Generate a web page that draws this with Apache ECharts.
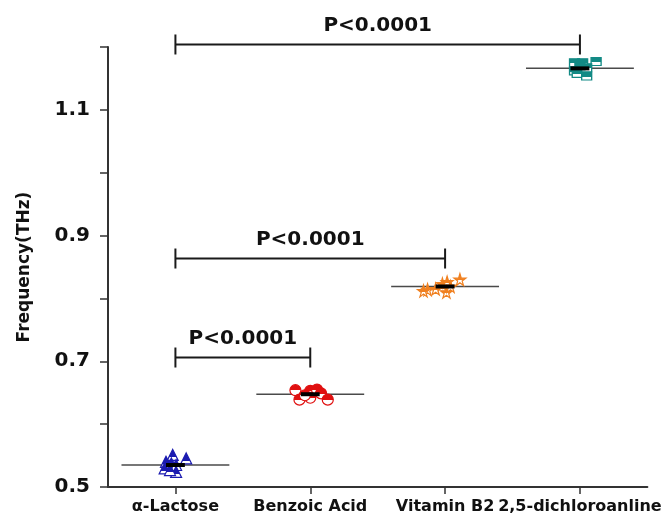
<!DOCTYPE html>
<html>
<head>
<meta charset="utf-8">
<script src="https://cdn.jsdelivr.net/npm/echarts@6/dist/echarts.min.js"></script>
<style>html,body{margin:0;padding:0;background:#fff}#c{width:664px;height:519px}</style>
</head>
<body>
<div id="c"></div>
<script>
const categories = ['α-Lactose', 'Benzoic Acid', 'Vitamin B2', '2,5-dichloroanline'];
const yTicks = [0.5, 0.7, 0.9, 1.1];

// per-group point values (Y) and horizontal jitter (in category units)
const lactoseY  = [0.551, 0.5455, 0.540, 0.5375, 0.535, 0.5296, 0.524, 0.527];
const lactoseDX = [-0.02, 0.08, -0.07, -0.03, 0.005, -0.08, 0.005, -0.04];
const benzoicY  = [0.654, 0.653, 0.655, 0.649, 0.639, 0.642, 0.639, 0.646];
const benzoicDX = [-0.11, 0.0, 0.05, 0.08, -0.08, 0.0, 0.13, -0.04];
const vitaminY  = [0.814, 0.815, 0.823, 0.826, 0.810, 0.830, 0.819, 0.812];
const vitaminDX = [-0.13, -0.07, -0.02, 0.015, 0.01, 0.11, 0.04, -0.16];
const dichloroY  = [1.175, 1.175, 1.177, 1.162, 1.158, 1.154, 1.167, 1.170];
const dichloroDX = [-0.04, 0.02, 0.12, -0.04, -0.02, 0.05, 0.05, 0.0];

const means = [0.535, 0.6476, 0.819, 1.166];

// significance brackets: [fromCategory, toCategory, yLevel]
const bracketFrom = [0, 0, 0];
const bracketTo   = [3, 2, 1];
const bracketY    = [1.204, 0.8635, 0.706];
const bracketText = ['P<0.0001', 'P<0.0001', 'P<0.0001'];

const FONT = '"DejaVu Sans", "Liberation Sans", Arial, sans-serif';

function halfFill(c, cut) {
  return {
    type: 'linear', x: 0, y: 0, x2: 0, y2: 1,
    colorStops: [
      {offset: 0, color: c}, {offset: cut, color: c},
      {offset: cut, color: '#ffffff'}, {offset: 1, color: '#ffffff'}
    ]
  };
}

function pts(ys, dxs, i) {
  return ys.map((y, k) => [i + dxs[k], y]);
}

const starPath = 'path://M50,0 L61,35 L98,35 L68,57 L79,91 L50,70 L21,91 L32,57 L2,35 L39,35 Z';

const groups = [
  {data: pts(lactoseY, lactoseDX, 0), color: '#1b1bb0', symbol: 'triangle', size: 11, cut: 0.68},
  {data: pts(benzoicY, benzoicDX, 1), color: '#e01010', symbol: 'circle', size: 11, cut: 0.52},
  {data: pts(vitaminY, vitaminDX, 2), color: '#f08020', symbol: starPath, size: 12, cut: 0.55},
  {data: pts(dichloroY, dichloroDX, 3), color: '#138a85', symbol: 'rect', size: [10, 8], cut: 0.58}
];

const chart = echarts.init(document.getElementById('c'), null, {renderer: 'canvas'});

const series = [];

series.push({
  type: 'custom',
  xAxisIndex: 1, yAxisIndex: 0,
  z: 1,
  data: means.map((m, i) => [i, m]),
  renderItem: function (params, api) {
    const i = api.value(0), m = api.value(1);
    const a = api.coord([i - 0.4, m]), b = api.coord([i + 0.4, m]);
    return {
      type: 'line',
      shape: {x1: a[0], y1: a[1], x2: b[0], y2: b[1]},
      style: {stroke: '#4a4a4a', lineWidth: 1.5}
    };
  }
});

groups.forEach(g => {
  series.push({
    type: 'scatter',
    xAxisIndex: 1, yAxisIndex: 0,
    z: 2,
    symbol: g.symbol,
    symbolSize: g.size,
    data: g.data,
    itemStyle: {color: halfFill(g.color, g.cut), borderColor: g.color, borderWidth: 1.2, opacity: 1}
  });
});

series.push({
  type: 'custom',
  xAxisIndex: 1, yAxisIndex: 0,
  z: 3,
  data: means.map((m, i) => [i, m]),
  renderItem: function (params, api) {
    const i = api.value(0), m = api.value(1);
    const a = api.coord([i - 0.07, m]), b = api.coord([i + 0.07, m]);
    return {
      type: 'line',
      shape: {x1: a[0], y1: a[1], x2: b[0], y2: b[1]},
      style: {stroke: '#000', lineWidth: 4}
    };
  }
});

series.push({
  type: 'custom',
  xAxisIndex: 1, yAxisIndex: 0,
  z: 4,
  clip: false,
  data: bracketY.map((y, k) => [bracketFrom[k], bracketTo[k], y, k]),
  renderItem: function (params, api) {
    const x1 = api.value(0), x2 = api.value(1), y = api.value(2), k = api.value(3);
    const a = api.coord([x1, y]), b = api.coord([x2, y]);
    const h = 10;
    const st = {stroke: '#1a1a1a', lineWidth: 2};
    return {
      type: 'group',
      children: [
        {type: 'line', shape: {x1: a[0], y1: a[1], x2: b[0], y2: b[1]}, style: st},
        {type: 'line', shape: {x1: a[0], y1: a[1] - h, x2: a[0], y2: a[1] + h}, style: st},
        {type: 'line', shape: {x1: b[0], y1: b[1] - h, x2: b[0], y2: b[1] + h}, style: st},
        {type: 'text', style: {
          text: bracketText[k], x: (a[0] + b[0]) / 2, y: a[1] - 19,
          align: 'center', verticalAlign: 'middle',
          font: 'bold 20px ' + FONT, fill: '#111'
        }}
      ]
    };
  }
});

chart.setOption({
  backgroundColor: '#ffffff',
  animation: false,
  grid: {left: 108, right: 11, top: 47, bottom: 32, containLabel: false},
  xAxis: [
    {
      type: 'category',
      data: categories,
      boundaryGap: true,
      axisLine: {show: true, onZero: false, lineStyle: {color: '#333', width: 2}},
      axisTick: {show: true, alignWithLabel: true, length: 7, lineStyle: {color: '#333', width: 1.5}},
      axisLabel: {color: '#111', fontFamily: FONT, fontWeight: 'bold', fontSize: 16, margin: 12, interval: 0},
      splitLine: {show: false}
    },
    {
      type: 'value', show: false, min: -0.5, max: 3.5,
      axisLine: {onZero: false},
      splitLine: {show: false}
    }
  ],
  yAxis: [{
    type: 'value',
    min: 0.5, max: 1.2, interval: 0.1,
    name: 'Frequency(THz)',
    nameLocation: 'middle',
    nameGap: 75,
    nameTextStyle: {color: '#111', fontFamily: FONT, fontWeight: 'bold', fontSize: 17},
    axisLine: {show: true, onZero: false, lineStyle: {color: '#333', width: 2}},
    axisTick: {show: true, length: 8, lineStyle: {color: '#333', width: 1.5}},
    axisLabel: {
      color: '#111', fontFamily: FONT, fontWeight: 'bold', fontSize: 20, margin: 18,
      formatter: function (v) {
        const hit = yTicks.find(t => Math.abs(t - v) < 1e-6);
        return hit !== undefined ? hit.toFixed(1) : '';
      }
    },
    splitLine: {show: false}
  }],
  series: series
});
</script>
</body>
</html>
